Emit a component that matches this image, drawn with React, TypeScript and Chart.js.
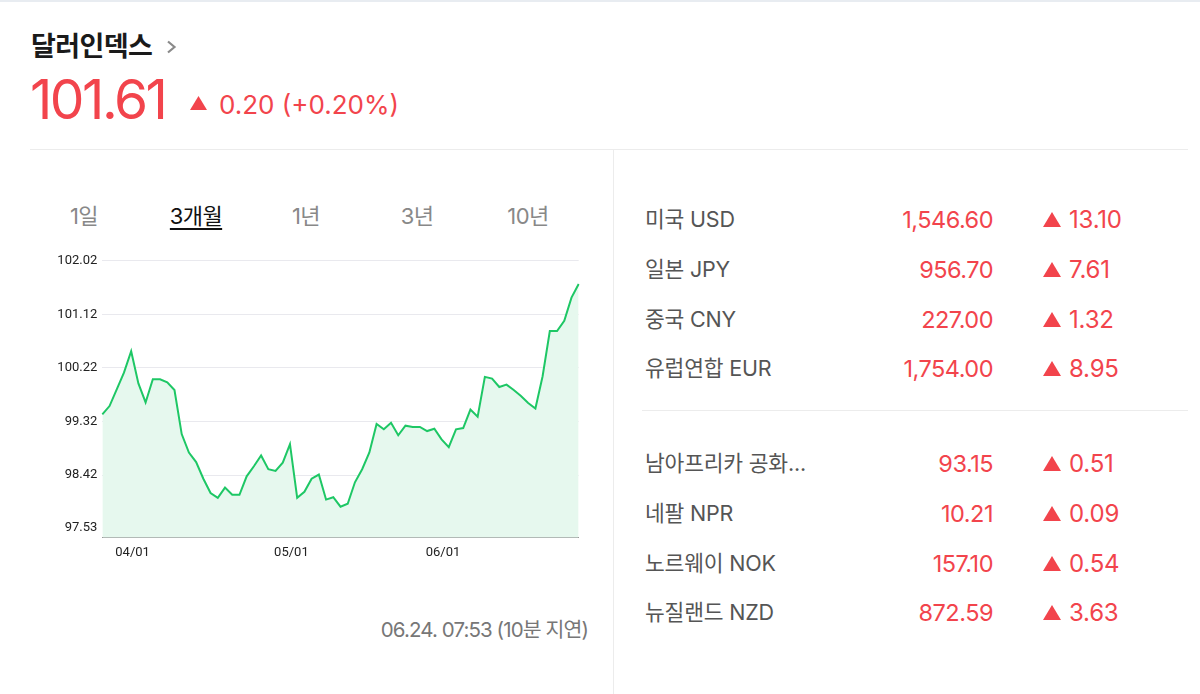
import React, { useEffect, useRef } from 'react';
import { Chart, registerables } from 'chart.js';

Chart.register(...registerables);

// ---- data ----
const indexValues = [
  99.44, 99.58, 99.86, 100.14, 100.5, 99.96, 99.64, 100.03, 100.03, 99.98,
  99.85, 99.11, 98.8, 98.64, 98.36, 98.12, 98.04, 98.21, 98.09, 98.09,
  98.4, 98.57, 98.75, 98.52, 98.49, 98.63, 98.94, 98.04, 98.14, 98.36,
  98.43, 98.01, 98.05, 97.89, 97.94, 98.3, 98.52, 98.8, 99.28, 99.19,
  99.3, 99.09, 99.25, 99.23, 99.23, 99.16, 99.2, 99.02, 98.89, 99.19,
  99.21, 99.52, 99.4, 100.07, 100.04, 99.9, 99.94, 99.85, 99.75, 99.63,
  99.54, 100.08, 100.84, 100.84, 101.01, 101.4, 101.63,
];
const yTickValues = [97.53, 98.42, 99.32, 100.22, 101.12, 102.02];
const xTickIndices = [6, 28, 49];
const xTickLabels = ['04/01', '05/01', '06/01'];
const tabLabels = ['1일', '3개월', '1년', '3년', '10년'];
const activeTab = '3개월';

const majorNames = ['미국 USD', '일본 JPY', '중국 CNY', '유럽연합 EUR'];
const majorPrices = ['1,546.60', '956.70', '227.00', '1,754.00'];
const majorChanges = ['13.10', '7.61', '1.32', '8.95'];
const otherNames = ['남아프리카 공화...', '네팔 NPR', '노르웨이 NOK', '뉴질랜드 NZD'];
const otherPrices = ['93.15', '10.21', '157.10', '872.59'];
const otherChanges = ['0.51', '0.09', '0.54', '3.63'];

const titleText = '달러인덱스';
const currentValue = '101.61';
const changeText = '0.20 (+0.20%)';
const timestampText = '06.24. 07:53 (10분 지연)';

// ---- styles ----
const RED = '#f2444c';
const NUM = 'Inter, "Noto Sans CJK KR", sans-serif';
const KR = '"Noto Sans CJK KR", sans-serif';

const Txt = (p: {
  x: number; cy: number; size: number; color: string; text: string;
  family?: string; weight?: number; align?: 'left' | 'right' | 'center';
  ls?: number; underline?: boolean;
}) => {
  const h = p.size * 1.6;
  const style: React.CSSProperties = {
    position: 'absolute',
    top: p.cy - h / 2,
    height: h,
    display: 'flex',
    alignItems: 'center',
    fontSize: p.size,
    lineHeight: 1,
    color: p.color,
    fontFamily: p.family || NUM,
    fontWeight: p.weight || 400,
    letterSpacing: p.ls || 0,
    whiteSpace: 'nowrap',
    textDecoration: p.underline ? 'underline' : 'none',
    textDecorationThickness: p.underline ? '1.5px' : undefined,
    textUnderlineOffset: p.underline ? '4px' : undefined,
  };
  if (p.align === 'right') {
    style.right = 1200 - p.x;
    style.justifyContent = 'flex-end';
  } else if (p.align === 'center') {
    style.left = p.x - 100;
    style.width = 200;
    style.justifyContent = 'center';
  } else {
    style.left = p.x;
  }
  return <div style={style}>{p.text}</div>;
};

const Tri = (p: { x: number; cy: number; w: number; h: number }) => (
  <svg
    style={{ position: 'absolute', left: p.x, top: p.cy - p.h / 2 }}
    width={p.w}
    height={p.h}
  >
    <polygon points={`${p.w / 2},0 ${p.w},${p.h} 0,${p.h}`} fill={RED} />
  </svg>
);

const LineChart = () => {
  const ref = useRef<HTMLCanvasElement | null>(null);
  useEffect(() => {
    if (!ref.current) return;
    const labels = indexValues.map((_, i) => {
      const k = xTickIndices.indexOf(i);
      return k >= 0 ? xTickLabels[k] : '';
    });
    const chart = new Chart(ref.current, {
      type: 'line',
      data: {
        labels,
        datasets: [
          {
            data: indexValues,
            borderColor: '#1ec765',
            borderWidth: 2,
            backgroundColor: '#e6f8ee',
            fill: 'start',
            pointRadius: 0,
            tension: 0,
          },
        ],
      },
      options: {
        animation: false,
        responsive: false,
        maintainAspectRatio: false,
        layout: { padding: { left: 0, right: 11.3, top: 20.7, bottom: 0 } },
        plugins: { legend: { display: false }, tooltip: { enabled: false } },
        scales: {
          x: {
            type: 'category',
            offset: false,
            afterFit: (s: any) => { s.height = 32.3; },
            grid: {
              drawOnChartArea: true,
              drawTicks: true,
              tickLength: 4,
              color: (c: any) => (xTickIndices.includes(c.index) ? '#e6e8ee' : 'rgba(0,0,0,0)'),
              tickColor: (c: any) => (xTickIndices.includes(c.index) ? '#c8c8c8' : 'rgba(0,0,0,0)'),
            },
            border: { display: true, color: '#8d8d8d', width: 1 },
            ticks: {
              autoSkip: false,
              maxRotation: 0,
              padding: 3,
              labelOffset: -13,
              color: '#222',
              font: { family: 'Roboto, sans-serif', size: 13 },
              callback: (_v: any, i: number) => {
                const k = xTickIndices.indexOf(i);
                return k >= 0 ? xTickLabels[k] : null;
              },
            },
          },
          y: {
            min: 97.37,
            max: 102.02,
            afterFit: (s: any) => { s.width = 62.3; },
            afterBuildTicks: (s: any) => {
              s.ticks = yTickValues.map((v) => ({ value: v }));
            },
            grid: {
              drawTicks: false,
              color: (c: any) => (c.index === 0 ? 'rgba(0,0,0,0)' : '#e9e9ee'),
            },
            border: { display: false },
            ticks: {
              padding: 5,
              color: '#222',
              font: { family: 'Roboto, sans-serif', size: 13 },
              callback: (v: any) => Number(v).toFixed(2),
            },
          },
        },
      },
    });
    return () => chart.destroy();
  }, []);
  return (
    <canvas
      ref={ref}
      width={550}
      height={330}
      style={{ position: 'absolute', left: 40, top: 240, width: 550, height: 330 }}
    />
  );
};

const tabCenters = [84, 196, 306, 417, 528];
const majorRowsY = [220, 270, 320, 369];
const otherRowsY = [464, 514, 564, 613];

const Rows = (p: { names: string[]; prices: string[]; changes: string[]; ys: number[] }) => (
  <>
    {p.names.map((n, i) => (
      <React.Fragment key={n}>
        <Txt x={645} cy={p.ys[i]} size={21.5} color="#555" text={n} ls={-0.2} />
        <Txt x={993} cy={p.ys[i]} size={23.5} color={RED} text={p.prices[i]} align="right" ls={-0.5} />
        <Tri x={1043} cy={p.ys[i] - 0.5} w={18} h={15} />
        <Txt x={1069} cy={p.ys[i]} size={24} color={RED} text={p.changes[i]} ls={-0.2} />
      </React.Fragment>
    ))}
  </>
);

export default function App() {
  return (
    <div
      style={{
        position: 'absolute',
        left: 0,
        top: 0,
        width: 1200,
        height: 694,
        background: '#fff',
        overflow: 'hidden',
        fontFamily: KR,
      }}
    >
      <div style={{ position: 'absolute', left: 0, top: 0, width: 1200, height: 2, background: '#e8ecf1' }} />
      <Txt x={31} cy={45} size={27} color="#1a1a1a" text={titleText} family={KR} weight={700} ls={-0.6} />
      <svg style={{ position: 'absolute', left: 166, top: 40 }} width={11} height={14}>
        <polyline points="2,1.5 8.5,7 2,12.5" fill="none" stroke="#8a8a8a" strokeWidth={2.2} />
      </svg>
      <Txt x={30} cy={99.5} size={55} color={RED} text={currentValue} ls={-2.5} />
      <Tri x={190} cy={103} w={17} h={14} />
      <Txt x={219} cy={105} size={26} color={RED} text={changeText} ls={0} />

      <div style={{ position: 'absolute', left: 30, top: 149, width: 1158, height: 1, background: '#ececec' }} />
      <div style={{ position: 'absolute', left: 613, top: 149, width: 1, height: 545, background: '#ececec' }} />

      {tabLabels.map((t, i) => (
        <Txt
          key={t}
          x={tabCenters[i]}
          cy={216}
          size={22}
          color={t === activeTab ? '#111' : '#888'}
          text={t}
          align="center"
          ls={-0.6}
          underline={t === activeTab}
        />
      ))}

      <LineChart />

      <Txt x={588} cy={630} size={20.5} color="#777" text={timestampText} align="right" ls={-0.9} />

      <Rows names={majorNames} prices={majorPrices} changes={majorChanges} ys={majorRowsY} />
      <div style={{ position: 'absolute', left: 642, top: 410, width: 546, height: 1, background: '#ececec' }} />
      <Rows names={otherNames} prices={otherPrices} changes={otherChanges} ys={otherRowsY} />
    </div>
  );
}
